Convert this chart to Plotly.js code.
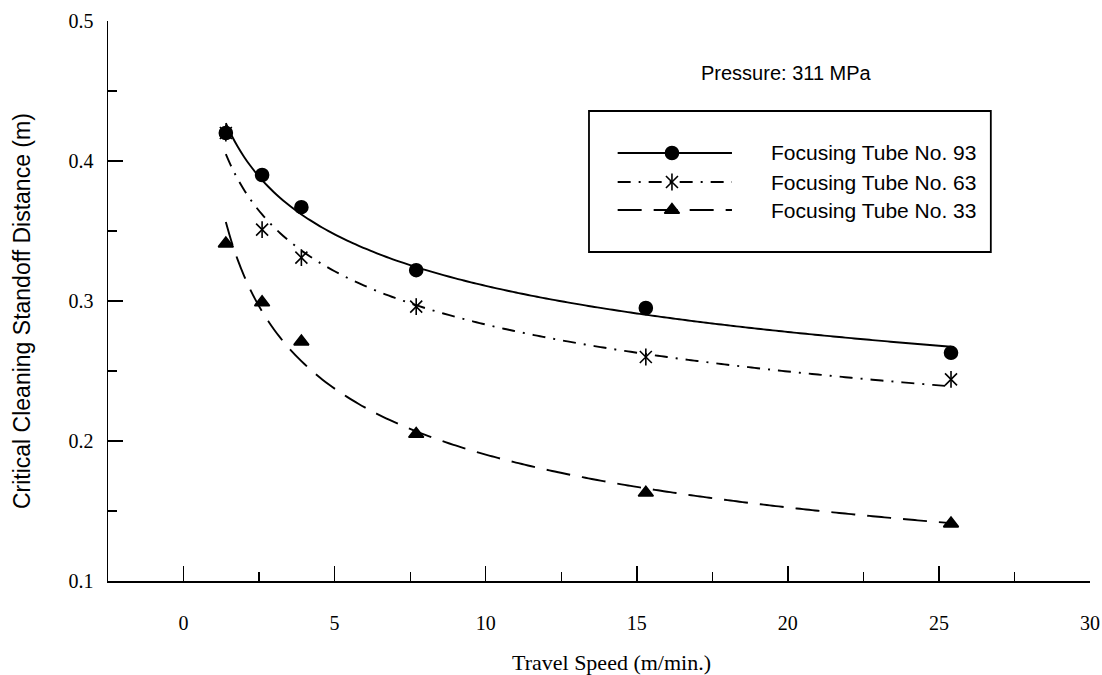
<!DOCTYPE html>
<html>
<head>
<meta charset="utf-8">
<script src="https://cdn.plot.ly/plotly-3.0.1.min.js"></script>
<style>
  html, body { margin: 0; padding: 0; background: #fff; }
  #chart { width: 1102px; height: 675px; }
</style>
</head>
<body>
<div id="chart"></div>
<script>
// Travel speed (m/min.) at which each focusing tube was tested
const travelSpeed = [1.4, 2.6, 3.9, 7.7, 15.3, 25.4];

// Critical cleaning standoff distance (m) for each focusing tube
const tube93 = [0.420, 0.390, 0.367, 0.322, 0.295, 0.263];
const tube63 = [0.420, 0.351, 0.331, 0.296, 0.260, 0.244];
const tube33 = [0.341, 0.299, 0.271, 0.205, 0.163, 0.141];

const seriesNames = ['Focusing Tube No. 93', 'Focusing Tube No. 63', 'Focusing Tube No. 33'];
const xTickVals = [0, 5, 10, 15, 20, 25, 30];
const yTickVals = [0.1, 0.2, 0.3, 0.4, 0.5];

const INK = '#000000';

// Least-squares power-law trend (y = a * x^b) through a tube's measurements
function powerFit(xs, ys) {
  const lx = xs.map(Math.log), ly = ys.map(Math.log);
  const n = xs.length;
  const mx = lx.reduce((s, v) => s + v, 0) / n;
  const my = ly.reduce((s, v) => s + v, 0) / n;
  let sxy = 0, sxx = 0;
  for (let i = 0; i < n; i++) {
    sxy += (lx[i] - mx) * (ly[i] - my);
    sxx += (lx[i] - mx) * (lx[i] - mx);
  }
  const b = sxy / sxx;
  const a = Math.exp(my - b * mx);
  const x0 = Math.min(...xs), x1 = Math.max(...xs);
  const cx = [], cy = [];
  for (let k = 0; k <= 120; k++) {
    const x = x0 + (x1 - x0) * k / 120;
    cx.push(x);
    cy.push(a * Math.pow(x, b));
  }
  return { x: cx, y: cy };
}

const styles = [
  { data: tube93, dash: 'solid', width: 1.9, symbols: ['circle'], size: 13 },
  { data: tube63, dash: '13px,8px,2px,8px', width: 1.9, symbols: ['x-thin-open', 'line-ns-open'], size: 12 },
  { data: tube33, dash: '24px,12px', width: 1.9, symbols: ['triangle-up'], size: 13 }
];

const traces = [];
styles.forEach((s, i) => {
  const fit = powerFit(travelSpeed, s.data);
  traces.push({
    x: fit.x, y: fit.y, type: 'scatter', mode: 'lines',
    line: { color: INK, width: s.width, dash: s.dash, shape: 'spline' },
    hoverinfo: 'skip', showlegend: false
  });
  s.symbols.forEach(sym => {
    traces.push({
      x: travelSpeed, y: s.data, type: 'scatter', mode: 'markers',
      name: seriesNames[i],
      marker: { symbol: sym, size: s.size, color: INK, line: { color: INK, width: 1.6 } },
      showlegend: false
    });
  });
});

// Legend keys drawn on an overlay axis pair spanning the plot area (0..1)
const keyRows = [0.7643, 0.7125, 0.6625];
const keyX0 = 0.519, keyX1 = 0.6354, keyXm = 0.5743, keyText = 0.6731;
styles.forEach((s, i) => {
  traces.push({
    x: [keyX0, keyX1], y: [keyRows[i], keyRows[i]], xaxis: 'x2', yaxis: 'y2',
    type: 'scatter', mode: 'lines',
    line: { color: INK, width: s.width, dash: s.dash },
    hoverinfo: 'skip', showlegend: false
  });
  s.symbols.forEach(sym => {
    traces.push({
      x: [keyXm], y: [keyRows[i]], xaxis: 'x2', yaxis: 'y2',
      type: 'scatter', mode: 'markers',
      marker: { symbol: sym, size: s.size, color: INK, line: { color: INK, width: 1.6 } },
      hoverinfo: 'skip', showlegend: false
    });
  });
});

const sans = 'Liberation Sans, Arial, sans-serif';
const serif = 'Liberation Serif, Times New Roman, serif';

const annotations = [
  {
    text: 'Critical Cleaning Standoff Distance (m)', textangle: -90,
    xref: 'paper', yref: 'paper', x: -0.0876, y: 0.482,
    xanchor: 'center', yanchor: 'middle', showarrow: false,
    font: { family: sans, size: 23, color: INK }
  },
  {
    text: 'Travel Speed (m/min.)',
    xref: 'paper', yref: 'paper', x: 0.513, y: -0.146,
    xanchor: 'center', yanchor: 'middle', showarrow: false,
    font: { family: serif, size: 22, color: INK }
  },
  {
    text: 'Pressure: 311 MPa',
    xref: 'paper', yref: 'paper', x: 0.691, y: 0.907,
    xanchor: 'center', yanchor: 'middle', showarrow: false,
    font: { family: sans, size: 20, color: INK }
  }
];
seriesNames.forEach((name, i) => {
  annotations.push({
    text: name, xref: 'paper', yref: 'paper', x: keyText, y: keyRows[i],
    xanchor: 'left', yanchor: 'middle', showarrow: false,
    font: { family: sans, size: 21, color: INK }
  });
});

const layout = {
  width: 1102, height: 675,
  margin: { l: 108, r: 12, t: 21, b: 94, pad: 0 },
  paper_bgcolor: '#ffffff', plot_bgcolor: '#ffffff',
  showlegend: false,
  xaxis: {
    range: [-2.5, 30], tickvals: xTickVals, ticktext: xTickVals.map(String),
    ticks: 'inside', ticklen: 15, tickwidth: 1.5, tickcolor: INK,
    minor: { dtick: 2.5, tick0: 0, ticks: 'inside', ticklen: 9, tickwidth: 1.3, tickcolor: INK, showgrid: false },
    showline: true, linecolor: INK, linewidth: 1.5,
    showgrid: false, zeroline: false, ticklabelstandoff: 23,
    tickfont: { family: serif, size: 20, color: INK }
  },
  yaxis: {
    range: [0.1, 0.5], tickvals: yTickVals, ticktext: yTickVals.map(v => v.toFixed(1)),
    ticks: 'inside', ticklen: 15, tickwidth: 1.5, tickcolor: INK,
    minor: { dtick: 0.05, tick0: 0.1, ticks: 'inside', ticklen: 9, tickwidth: 1.3, tickcolor: INK, showgrid: false },
    showline: true, linecolor: INK, linewidth: 1.5,
    showgrid: false, zeroline: false, ticklabelstandoff: 9,
    tickfont: { family: serif, size: 20, color: INK }
  },
  xaxis2: { overlaying: 'x', anchor: 'y2', range: [0, 1], visible: false, fixedrange: true },
  yaxis2: { overlaying: 'y', anchor: 'x2', range: [0, 1], visible: false, fixedrange: true },
  shapes: [
    {
      type: 'rect', xref: 'paper', yref: 'paper',
      x0: 0.4898, x1: 0.899, y0: 0.5875, y1: 0.8393,
      line: { color: INK, width: 1.8 }, fillcolor: 'rgba(0,0,0,0)'
    }
  ],
  annotations: annotations
};

Plotly.newPlot('chart', traces, layout, { staticPlot: true, displayModeBar: false });
</script>
</body>
</html>
